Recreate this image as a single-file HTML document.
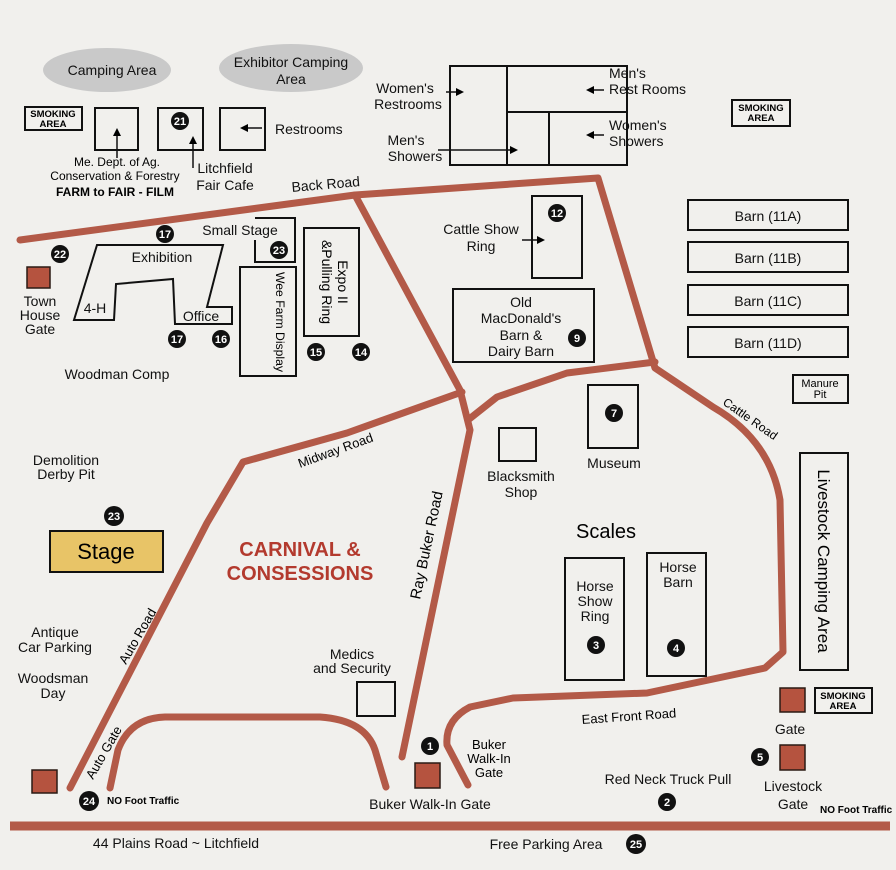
<!DOCTYPE html>
<html><head><meta charset="utf-8"><style>
html,body{margin:0;padding:0;background:#f1f0ed;}
svg{display:block;font-family:"Liberation Sans",Arial,sans-serif;}
.b{fill:none;stroke:#111;stroke-width:2;}
.r{fill:none;stroke:#b35a48;stroke-width:7;stroke-linecap:round;stroke-linejoin:round;}
.g{fill:#b5533f;stroke:#2a1a15;stroke-width:1.5;}
.c{fill:#111;}
.ct{fill:#fff;font-weight:bold;font-size:11px;text-anchor:middle;}
.t{font-size:14px;fill:#111;}
.m{text-anchor:middle;}
</style></head><body>
<svg width="896" height="870" viewBox="0 0 896 870" xmlns="http://www.w3.org/2000/svg">
<rect width="896" height="870" fill="#f1f0ed"/>
<path class="r" d="M20,240 L355,195 L598,178 L655,368 L713,407 Q770,440 780,500 L783,652 L765,668 L647,693 L513,698 L470,707 Q445,720 447,745 L468,785"/>
<path class="r" d="M655,362 L567,373 L497,397 L468,420"/>
<path class="r" d="M355,195 L460,390 L470,430 L402,757"/>
<path class="r" d="M462,392 L347,433 L243,462 L207,523 L70,788"/>
<path class="r" d="M110,788 L118,750 Q130,718 165,717 L320,717 Q365,720 375,750 L386,787"/>
<line x1="10" y1="826" x2="890" y2="826" stroke="#b35a48" stroke-width="9"/>
<ellipse cx="107" cy="70" rx="64" ry="22" fill="#c9c9c9"/>
<ellipse cx="291" cy="68" rx="72" ry="24" fill="#c9c9c9"/>
<text class="t m" x="112" y="75" font-size="15">Camping Area</text>
<text class="t m" x="291" y="67">Exhibitor Camping</text>
<text class="t m" x="291" y="84">Area</text>
<rect class="b" x="25" y="107" width="57" height="23"/>
<text x="53" y="117" font-size="9.5" font-weight="bold" text-anchor="middle">SMOKING</text>
<text x="53" y="127" font-size="9.5" font-weight="bold" text-anchor="middle">AREA</text>
<rect class="b" x="95" y="108" width="43" height="42"/>
<rect class="b" x="158" y="108" width="45" height="42"/>
<rect class="b" x="220" y="108" width="45" height="42"/>
<circle class="c" cx="180" cy="121" r="9"/><text class="ct" x="180" y="125">21</text>
<line x1="117" y1="158" x2="117" y2="134" stroke="#111" stroke-width="1.5"/><path d="M113,136 L117,128 L121,136Z"/>
<line x1="193" y1="168" x2="193" y2="142" stroke="#111" stroke-width="1.5"/><path d="M189,144 L193,136 L197,144Z"/>
<line x1="262" y1="128" x2="246" y2="128" stroke="#111" stroke-width="1.5"/><path d="M248,124 L240,128 L248,132Z"/>
<text class="t" x="275" y="134">Restrooms</text>
<text class="m" x="117" y="166" font-size="12">Me. Dept. of Ag.</text>
<text class="m" x="115" y="180" font-size="12">Conservation &amp; Forestry</text>
<text class="m" x="115" y="196" font-size="12" font-weight="bold">FARM to FAIR - FILM</text>
<text class="t m" x="225" y="173" font-size="15">Litchfield</text>
<text class="t m" x="225" y="190" font-size="15">Fair Cafe</text>
<text class="t" x="292" y="192" font-size="13" transform="rotate(-5 292 192)">Back Road</text>
<rect class="b" x="450" y="66" width="177" height="99"/>
<line x1="507" y1="66" x2="507" y2="165" stroke="#111" stroke-width="2"/>
<line x1="507" y1="112" x2="627" y2="112" stroke="#111" stroke-width="2"/>
<line x1="549" y1="112" x2="549" y2="165" stroke="#111" stroke-width="2"/>
<text class="t m" x="405" y="93">Women's</text><text class="t m" x="408" y="109">Restrooms</text>
<line x1="446" y1="92" x2="458" y2="92" stroke="#111" stroke-width="1.5"/><path d="M456,88 L464,92 L456,96Z"/>
<text class="t m" x="406" y="145">Men's</text><text class="t m" x="415" y="161">Showers</text>
<line x1="438" y1="150" x2="512" y2="150" stroke="#111" stroke-width="1.5"/><path d="M510,146 L518,150 L510,154Z"/>
<text class="t" x="609" y="78">Men's</text><text class="t" x="609" y="94">Rest Rooms</text>
<line x1="604" y1="90" x2="592" y2="90" stroke="#111" stroke-width="1.5"/><path d="M594,86 L586,90 L594,94Z"/>
<text class="t" x="609" y="130">Women's</text><text class="t" x="609" y="146">Showers</text>
<line x1="604" y1="135" x2="592" y2="135" stroke="#111" stroke-width="1.5"/><path d="M594,131 L586,135 L594,139Z"/>
<rect class="b" x="732" y="100" width="58" height="26"/>
<text x="761" y="111" font-size="9.5" font-weight="bold" text-anchor="middle">SMOKING</text>
<text x="761" y="121" font-size="9.5" font-weight="bold" text-anchor="middle">AREA</text>
<rect class="b" x="688" y="200" width="160" height="30"/><text class="t m" x="768" y="221" font-size="15">Barn (11A)</text>
<rect class="b" x="688" y="242" width="160" height="30"/><text class="t m" x="768" y="263" font-size="15">Barn (11B)</text>
<rect class="b" x="688" y="285" width="160" height="30"/><text class="t m" x="768" y="306" font-size="15">Barn (11C)</text>
<rect class="b" x="688" y="327" width="160" height="30"/><text class="t m" x="768" y="348" font-size="15">Barn (11D)</text>
<rect class="b" x="793" y="375" width="55" height="28"/>
<text class="m" x="820" y="387" font-size="11">Manure</text><text class="m" x="820" y="398" font-size="11">Pit</text>
<rect class="b" x="800" y="453" width="48" height="217"/>
<text class="m" x="818" y="561" font-size="17" transform="rotate(90 818 561)">Livestock Camping Area</text>
<rect class="g" x="780" y="688" width="25" height="24"/>
<rect class="b" x="815" y="688" width="57" height="25"/>
<text x="843" y="699" font-size="9.5" font-weight="bold" text-anchor="middle">SMOKING</text>
<text x="843" y="709" font-size="9.5" font-weight="bold" text-anchor="middle">AREA</text>
<text class="t m" x="790" y="734" font-size="15">Gate</text>
<circle class="c" cx="760" cy="757" r="9"/><text class="ct" x="760" y="761">5</text>
<rect class="g" x="780" y="745" width="25" height="25"/>
<text class="t m" x="793" y="791" font-size="16">Livestock</text>
<text class="t m" x="793" y="809" font-size="16">Gate</text>
<text x="820" y="813" font-size="10" font-weight="bold">NO Foot Traffic</text>
<rect class="b" x="532" y="196" width="50" height="82"/>
<circle class="c" cx="557" cy="213" r="9"/><text class="ct" x="557" y="217">12</text>
<text class="t m" x="481" y="234" font-size="15">Cattle Show</text><text class="t m" x="481" y="251" font-size="15">Ring</text>
<line x1="522" y1="240" x2="538" y2="240" stroke="#111" stroke-width="1.5"/><path d="M537,236 L545,240 L537,244Z"/>
<rect class="b" x="453" y="289" width="141" height="73"/>
<text class="t m" x="521" y="307" font-size="15">Old</text>
<text class="t m" x="521" y="323" font-size="15">MacDonald's</text>
<text class="t m" x="521" y="340" font-size="15">Barn &amp;</text>
<text class="t m" x="521" y="356" font-size="15">Dairy Barn</text>
<circle class="c" cx="577" cy="338" r="9"/><text class="ct" x="577" y="342">9</text>
<rect class="b" x="588" y="385" width="50" height="63"/>
<circle class="c" cx="614" cy="413" r="9"/><text class="ct" x="614" y="417">7</text>
<text class="t m" x="614" y="468">Museum</text>
<rect class="b" x="499" y="428" width="37" height="33"/>
<text class="t m" x="521" y="481">Blacksmith</text><text class="t m" x="521" y="497">Shop</text>
<text class="m" x="606" y="538" font-size="20">Scales</text>
<rect class="b" x="565" y="558" width="59" height="122"/>
<text class="t m" x="595" y="591">Horse</text><text class="t m" x="595" y="606">Show</text><text class="t m" x="595" y="621">Ring</text>
<circle class="c" cx="596" cy="645" r="9"/><text class="ct" x="596" y="649">3</text>
<rect class="b" x="647" y="553" width="59" height="123"/>
<text class="t m" x="678" y="572">Horse</text><text class="t m" x="678" y="587">Barn</text>
<circle class="c" cx="676" cy="648" r="9"/><text class="ct" x="676" y="652">4</text>
<text x="722" y="404" font-size="12" transform="rotate(35 722 404)">Cattle Road</text>
<text x="582" y="724" font-size="13" transform="rotate(-4 582 724)">East Front Road</text>
<text x="420" y="600" font-size="15" transform="rotate(-78 420 600)">Ray Buker Road</text>
<text x="300" y="468" font-size="13" transform="rotate(-20 300 468)">Midway Road</text>
<text x="300" y="556" font-size="20" font-weight="bold" fill="#b33a2e" text-anchor="middle">CARNIVAL &amp;</text>
<text x="300" y="580" font-size="20" font-weight="bold" fill="#b33a2e" text-anchor="middle">CONSESSIONS</text>
<text x="126" y="665" font-size="13" transform="rotate(-60 126 665)">Auto Road</text>
<text x="93" y="780" font-size="13" transform="rotate(-60 93 780)">Auto Gate</text>
<circle class="c" cx="60" cy="254" r="9"/><text class="ct" x="60" y="258">22</text>
<rect class="g" x="27" y="267" width="23" height="21"/>
<text class="t m" x="40" y="306">Town</text><text class="t m" x="40" y="320">House</text><text class="t m" x="40" y="334">Gate</text>
<path class="b" d="M97,245 L223,245 L207,307 L232,307 L232,324 L175,324 L173,279 L116,284 L114,320 L74,320 Z"/>
<text class="t m" x="162" y="262">Exhibition</text>
<text class="t m" x="95" y="313">4-H</text>
<text class="t m" x="201" y="321">Office</text>
<circle class="c" cx="165" cy="234" r="9"/><text class="ct" x="165" y="238">17</text>
<circle class="c" cx="177" cy="339" r="9"/><text class="ct" x="177" y="343">17</text>
<circle class="c" cx="221" cy="339" r="9"/><text class="ct" x="221" y="343">16</text>
<text class="t m" x="240" y="235">Small Stage</text>
<path class="b" d="M255,218 L295,218 L295,262 L255,262 L255,240"/>
<circle class="c" cx="279" cy="250" r="9"/><text class="ct" x="279" y="254">23</text>
<rect class="b" x="240" y="267" width="56" height="109"/>
<text x="276" y="322" font-size="12" text-anchor="middle" textLength="100" lengthAdjust="spacingAndGlyphs" transform="rotate(90 276 322)">Wee Farm Display</text>
<rect class="b" x="304" y="228" width="55" height="108"/>
<text x="338" y="282" font-size="14" text-anchor="middle" transform="rotate(90 338 282)">Expo II</text>
<text x="322" y="282" font-size="14" text-anchor="middle" transform="rotate(90 322 282)">&amp;Pulling Ring</text>
<circle class="c" cx="316" cy="352" r="9"/><text class="ct" x="316" y="356">15</text>
<circle class="c" cx="361" cy="352" r="9"/><text class="ct" x="361" y="356">14</text>
<text class="t m" x="117" y="379">Woodman Comp</text>
<text class="t m" x="66" y="465">Demolition</text><text class="t m" x="66" y="479">Derby Pit</text>
<circle class="c" cx="114" cy="516" r="10"/><text class="ct" x="114" y="520">23</text>
<rect x="50" y="531" width="113" height="41" fill="#e8c467" stroke="#111" stroke-width="2"/>
<text class="m" x="106" y="559" font-size="22">Stage</text>
<text class="t m" x="55" y="637">Antique</text><text class="t m" x="55" y="652">Car Parking</text>
<text class="t m" x="53" y="683">Woodsman</text><text class="t m" x="53" y="698">Day</text>
<text class="t m" x="352" y="659" font-size="13">Medics</text><text class="t m" x="352" y="673" font-size="13">and Security</text>
<rect class="b" x="357" y="682" width="38" height="34"/>
<rect class="g" x="32" y="770" width="25" height="23"/>
<circle class="c" cx="89" cy="801" r="10"/><text class="ct" x="89" y="805">24</text>
<text x="107" y="804" font-size="10" font-weight="bold">NO Foot Traffic</text>
<circle class="c" cx="430" cy="746" r="9"/><text class="ct" x="430" y="750">1</text>
<rect class="g" x="415" y="763" width="25" height="25"/>
<text class="m" x="489" y="749" font-size="13">Buker</text><text class="m" x="489" y="763" font-size="13">Walk-In</text><text class="m" x="489" y="777" font-size="13">Gate</text>
<text class="t m" x="430" y="809">Buker Walk-In Gate</text>
<text class="t m" x="668" y="784">Red Neck Truck Pull</text>
<circle class="c" cx="667" cy="802" r="9"/><text class="ct" x="667" y="806">2</text>
<text class="t m" x="176" y="848">44 Plains Road ~ Litchfield</text>
<text class="t m" x="546" y="849">Free Parking Area</text>
<circle class="c" cx="636" cy="844" r="10"/><text class="ct" x="636" y="848">25</text>
</svg>
</body></html>
